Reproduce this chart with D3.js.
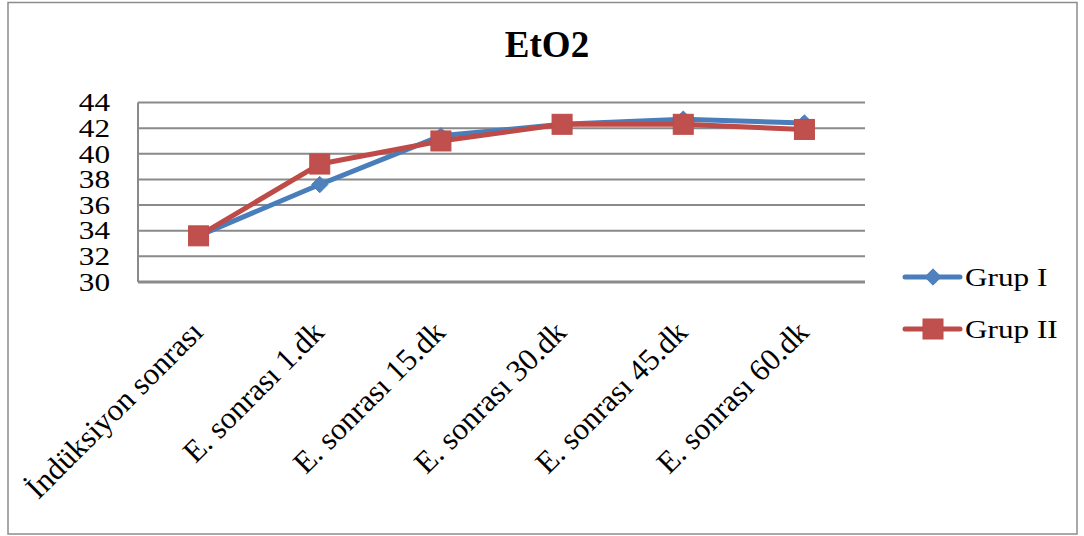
<!DOCTYPE html>
<html>
<head>
<meta charset="utf-8">
<script src="https://cdn.jsdelivr.net/npm/d3@7"></script>
<style>
  html, body { margin: 0; padding: 0; background: #fff; }
  svg { display: block; }
  text { font-family: "Liberation Serif", "Times New Roman", serif; fill: #000; }
</style>
</head>
<body>
<svg id="chart" width="1084" height="536"></svg>
<script>
// EtO2 values for each measurement time
const categories = [
  "İndüksiyon sonrası",
  "E. sonrası 1.dk",
  "E. sonrası 15.dk",
  "E. sonrası 30.dk",
  "E. sonrası 45.dk",
  "E. sonrası 60.dk"
];
const grup1 = [33.6, 37.6, 41.4, 42.3, 42.7, 42.4];
const grup2 = [33.6, 39.2, 41.0, 42.3, 42.3, 41.9];
const seriesNames = ["Grup I", "Grup II"];
const yTicks = [30, 32, 34, 36, 38, 40, 42, 44];
const chartTitle = "EtO2";

const svg = d3.select("#chart");

// outer chart frame
svg.append("rect")
  .attr("x", 8).attr("y", 2.5)
  .attr("width", 1069).attr("height", 531.5)
  .attr("fill", "#fff")
  .attr("stroke", "#8c8c8c")
  .attr("stroke-width", 1.5);

const plot = { left: 138, right: 865, top: 102.5, bottom: 282 };

const x = d3.scaleBand()
  .domain(categories)
  .range([plot.left, plot.right])
  .padding(0);

const y = d3.scaleLinear()
  .domain([30, 44])
  .range([plot.bottom, plot.top]);

// horizontal gridlines
svg.append("g")
  .selectAll("line")
  .data(yTicks)
  .join("line")
  .attr("x1", plot.left).attr("x2", plot.right)
  .attr("y1", d => y(d)).attr("y2", d => y(d))
  .attr("stroke", "#8a8a8a")
  .attr("stroke-width", d => d === 30 ? 3 : 2);

// vertical axis line
svg.append("line")
  .attr("x1", plot.left).attr("x2", plot.left)
  .attr("y1", plot.top).attr("y2", plot.bottom)
  .attr("stroke", "#8a8a8a")
  .attr("stroke-width", 2);

// y tick labels
svg.append("g")
  .selectAll("text")
  .data(yTicks)
  .join("text")
  .attr("transform", d => `translate(110,${y(d)}) scale(1.25,1)`)
  .attr("text-anchor", "end")
  .attr("dy", "0.35em")
  .style("font-size", "25px")
  .text(d => d);

// rotated category labels
svg.append("g")
  .selectAll("text")
  .data(categories)
  .join("text")
  .attr("transform", d => `translate(${x(d) + x.bandwidth() / 2 + 6},${334}) rotate(-45)`)
  .attr("text-anchor", "end")
  .style("font-size", "31px")
  .text(d => d);

// title
svg.append("text")
  .attr("x", 547).attr("y", 57)
  .attr("text-anchor", "middle")
  .style("font-size", "37px")
  .style("font-weight", "bold")
  .text(chartTitle);

const cx = d => x(d) + x.bandwidth() / 2;
const line = d3.line()
  .x((d, i) => cx(categories[i]))
  .y(d => y(d));

const blue = "#4a7ebb", blueMarker = "#4f81bd";
const red = "#be4b48", redMarker = "#c0504d";

// Grup I
svg.append("path")
  .datum(grup1)
  .attr("d", line)
  .attr("fill", "none")
  .attr("stroke", blue)
  .attr("stroke-width", 5)
  .attr("stroke-linejoin", "round");

const diamond = d3.symbol().type(d3.symbolDiamond2).size(170);
svg.append("g")
  .selectAll("path")
  .data(grup1)
  .join("path")
  .attr("transform", (d, i) => `translate(${cx(categories[i])},${y(d)})`)
  .attr("d", diamond)
  .attr("fill", blueMarker)
  .attr("stroke", blue)
  .attr("stroke-width", 1);

// Grup II
svg.append("path")
  .datum(grup2)
  .attr("d", line)
  .attr("fill", "none")
  .attr("stroke", red)
  .attr("stroke-width", 5)
  .attr("stroke-linejoin", "round");

svg.append("g")
  .selectAll("rect")
  .data(grup2)
  .join("rect")
  .attr("x", (d, i) => cx(categories[i]) - 10)
  .attr("y", d => y(d) - 10)
  .attr("width", 20).attr("height", 20)
  .attr("fill", redMarker)
  .attr("stroke", red)
  .attr("stroke-width", 1);

// legend
const legend = svg.append("g");
const legendY = [277, 329];
const colors = [blue, red];
seriesNames.forEach((name, i) => {
  const g = legend.append("g").attr("transform", `translate(0,${legendY[i]})`);
  g.append("line")
    .attr("x1", 905).attr("x2", 960)
    .attr("y1", 0).attr("y2", 0)
    .attr("stroke", colors[i])
    .attr("stroke-width", 5)
    .attr("stroke-linecap", "round");
  if (i === 0) {
    g.append("path")
      .attr("transform", "translate(933,0)")
      .attr("d", diamond)
      .attr("fill", blueMarker)
      .attr("stroke", blue);
  } else {
    g.append("rect")
      .attr("x", 923).attr("y", -10)
      .attr("width", 20).attr("height", 20)
      .attr("fill", redMarker)
      .attr("stroke", red);
  }
  g.append("text")
    .attr("transform", "translate(965,0) scale(1.2,1)")
    .attr("dy", "0.35em")
    .style("font-size", "26px")
    .text(name);
});
</script>
</body>
</html>
